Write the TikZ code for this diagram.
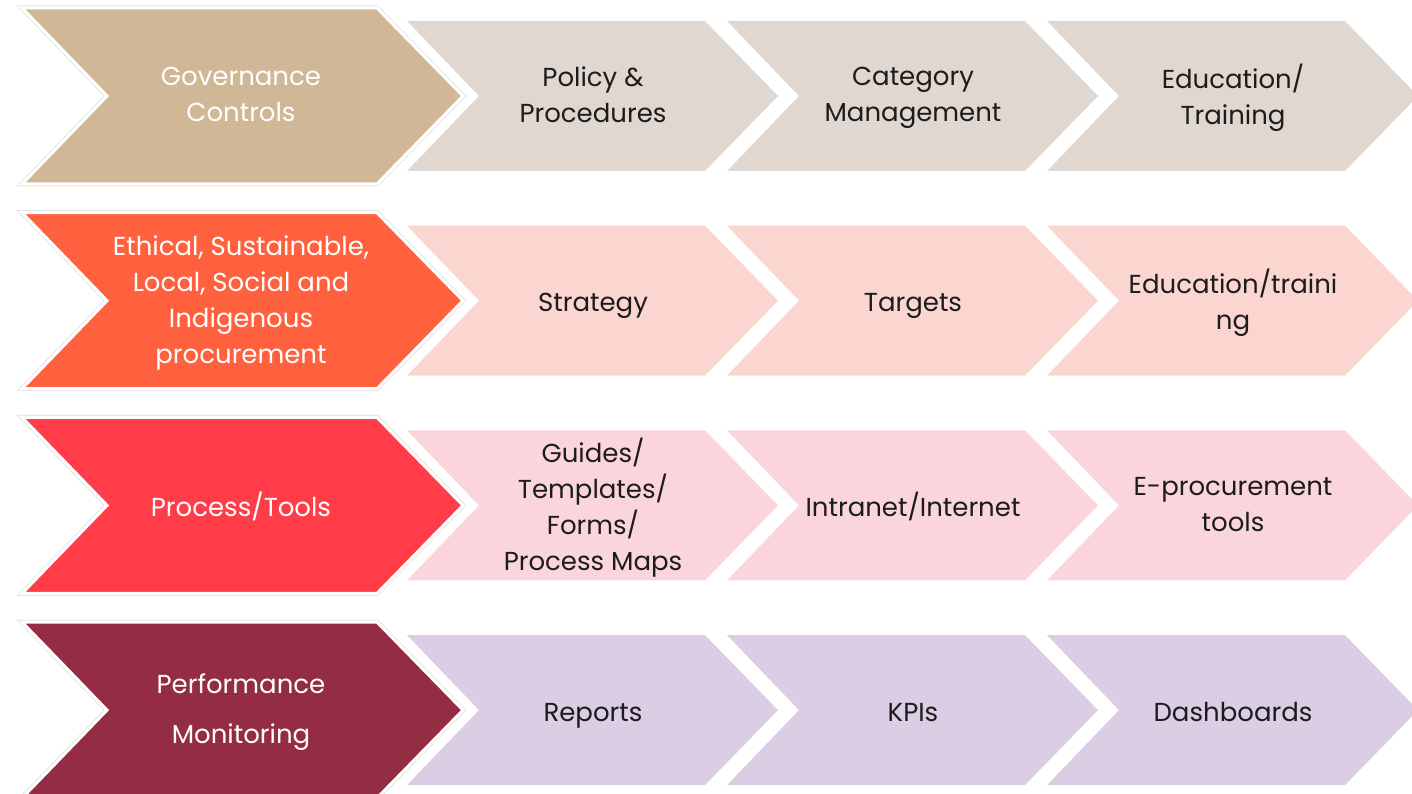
\documentclass[tikz,border=0pt]{standalone}
\usepackage{fontspec}
\setmainfont{Poppins}
\definecolor{govmain}{HTML}{D0B795}
\definecolor{govsub}{HTML}{DFD7D0}
\definecolor{ethmain}{HTML}{FF613E}
\definecolor{ethsub}{HTML}{FBD5D0}
\definecolor{procmain}{HTML}{FF3C48}
\definecolor{procsub}{HTML}{FBD5DC}
\definecolor{perfmain}{HTML}{942D44}
\definecolor{perfsub}{HTML}{DBCDE3}
\definecolor{subtext}{HTML}{1C1C1C}
\begin{document}
\begin{tikzpicture}[x=1pt,y=-1pt,
  chevtext/.style={align=center,inner sep=0pt,yshift=-4pt,font=\fontsize{26}{36}\selectfont,
    execute at begin node=\strut, execute at end node=\strut},
  maintext/.style={chevtext,text=white},
  subtext/.style={chevtext,text=subtext}]
  \useasboundingbox (0,0) rectangle (1412,794);
  \clip (0,0) rectangle (1412,794);
  \def\mainpath{(22,-88) -- (377,-88) -- (463,0) -- (377,88) -- (22,88) -- (107,0) -- cycle}
  \def\sub#1#2{
    \fill[#2] (#1,-75) -- ++(298,0) -- ++(73,75) -- ++(-73,75) -- ++(-298,0) -- ++(72,-75) -- cycle;
  }

  \foreach \mc/\sc/\mt/\ta/\tb/\tc [count=\i from 0] in {
    govmain/govsub/{Governance\\Controls}/{Policy \&\\Procedures}/{Category\\Management}/{Education/\\Training},
    ethmain/ethsub/{Ethical, Sustainable,\\Local, Social and\\Indigenous\\procurement}/{Strategy}/{Targets}/{Education/traini\\ng},
    procmain/procsub/{Process/Tools}/{Guides/\\Templates/\\Forms/\\Process Maps}/{Intranet/Internet}/{E-procurement\\tools},
    perfmain/perfsub/{Performance\\[14pt]Monitoring}/{Reports}/{KPIs}/{Dashboards}} {
    \begin{scope}[shift={(0,{96+204.7*\i})}]
      % steps behind the lead chevron
      \sub{407}{\sc}\sub{727}{\sc}\sub{1047}{\sc}
      \node[subtext] (a\i) at (593,0) {\ta};
      \node[subtext] (b\i) at (913,0) {\tb};
      \node[subtext] (c\i) at (1233,0) {\tc};
      % lead chevron with its white rim
      \draw[black!10, line width=5] \mainpath;
      \filldraw[fill=\mc, draw=white, line width=3] \mainpath;
      \node[maintext] (m\i) at (241,0) {\mt};
    \end{scope}
  }
\end{tikzpicture}
\end{document}
